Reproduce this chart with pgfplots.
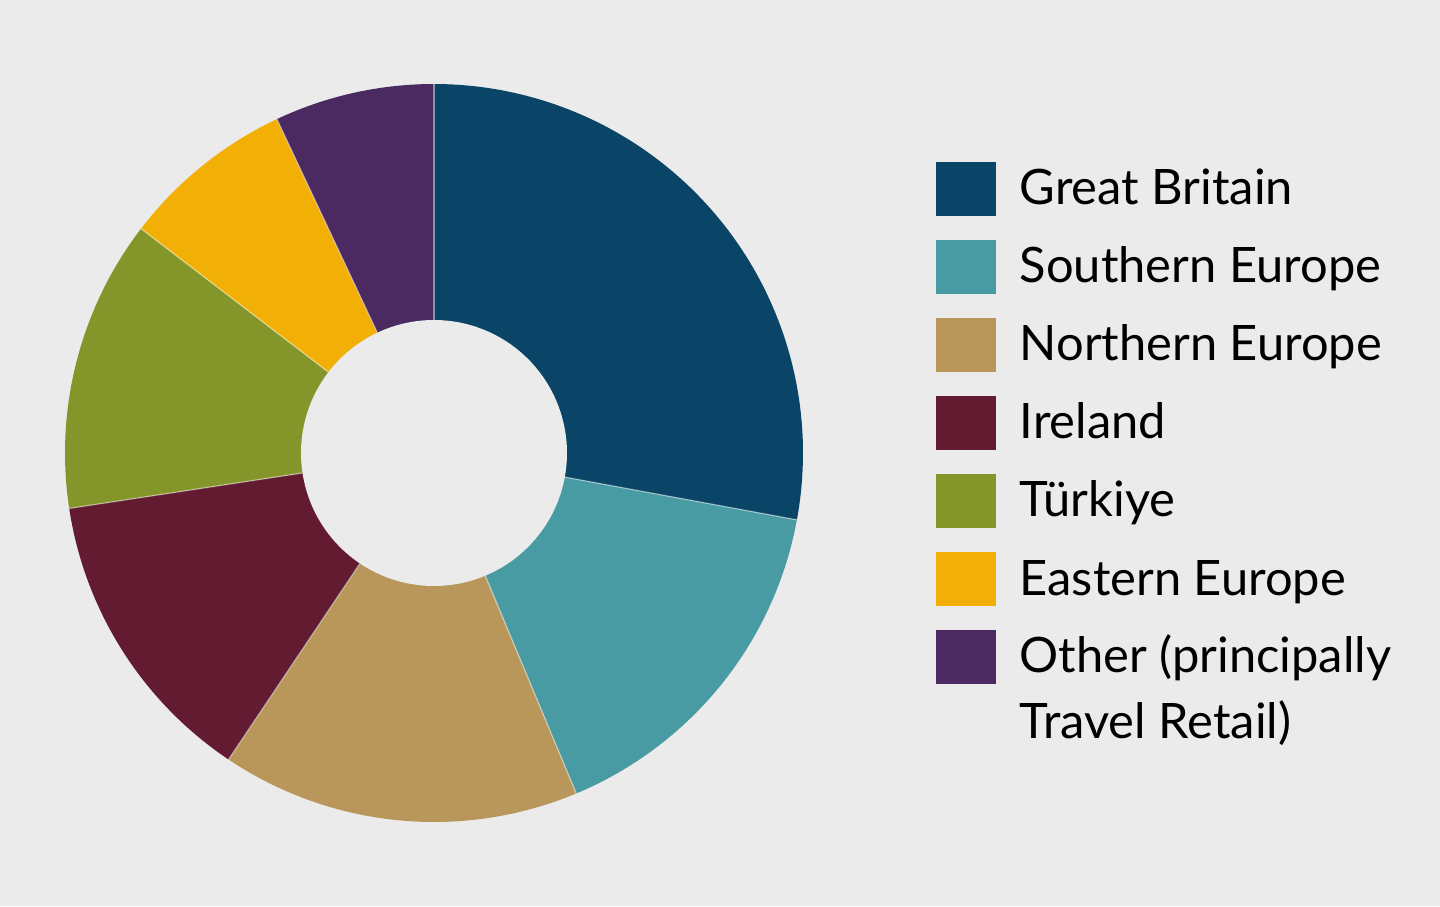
\documentclass[border=0pt]{standalone}
\usepackage{pgfplots}
\pgfplotsset{compat=1.18}
\usepackage{pgfplotstable}
\usepackage{fontspec}
\setmainfont{Lato}
\definecolor{bg}{HTML}{EBEBEB}
\definecolor{c0}{HTML}{0A4466}
\definecolor{c1}{HTML}{489BA3}
\definecolor{c2}{HTML}{B9975B}
\definecolor{c3}{HTML}{631B31}
\definecolor{c4}{HTML}{849629}
\definecolor{c5}{HTML}{F2B006}
\definecolor{c6}{HTML}{4A2A60}
% shares in percent, clockwise from 12 o'clock
\pgfplotstableread{
value
27.9
15.8
15.7
13.2
12.8
7.6
7.0
}\shares
\begin{document}
\begin{tikzpicture}[x=1cm,y=1cm]
\fill[bg] (0,0) rectangle (14.4,9.06);
\begin{axis}[at={(4.34cm,4.53cm)}, anchor=center, width=7.38cm, height=7.38cm,
  scale only axis, hide axis, xmin=-369, xmax=369, ymin=-369, ymax=369, clip=false]
\pgfplotstablegetrowsof{\shares}
\pgfmathtruncatemacro{\nrows}{\pgfplotsretval-1}
\gdef\cum{0}
\pgfplotsforeachungrouped \i in {0,...,\nrows}{%
  \pgfplotstablegetelem{\i}{value}\of{\shares}%
  \let\val\pgfplotsretval
  \pgfmathsetmacro{\start}{90-3.6*\cum}%
  \pgfmathsetmacro{\newcum}{\cum+\val}%
  \xdef\cum{\newcum}%
  \pgfmathsetmacro{\stop}{90-3.6*\cum}%
  \edef\doplot{\noexpand\addplot[fill=c\i, draw=none, domain=\stop:\start, samples=90, variable=\noexpand\t]
     ({369*cos(\noexpand\t)},{369*sin(\noexpand\t)}) -- (axis cs:0,0) -- cycle;}%
  \doplot
}
% thin separators
\gdef\cum{0}
\pgfplotsforeachungrouped \i in {0,...,\nrows}{%
  \pgfplotstablegetelem{\i}{value}\of{\shares}%
  \let\val\pgfplotsretval
  \pgfmathsetmacro{\ang}{90-3.6*\cum}%
  \pgfmathsetmacro{\xa}{133*cos(\ang)}\pgfmathsetmacro{\ya}{133*sin(\ang)}%
  \pgfmathsetmacro{\xb}{369*cos(\ang)}\pgfmathsetmacro{\yb}{369*sin(\ang)}%
  \edef\doplot{\noexpand\addplot[draw=white, draw opacity=0.45, line width=0.35pt] coordinates {(\xa,\ya) (\xb,\yb)};}%
  \doplot
  \pgfmathsetmacro{\newcum}{\cum+\val}%
  \xdef\cum{\newcum}%
}
% hole
\addplot[fill=bg, draw=none, domain=0:360, samples=160, variable=\t]
  ({133*cos(\t)},{133*sin(\t)}) -- cycle;
\end{axis}
% legend
\fontsize{13.9}{16}\selectfont
\foreach \k/\name in {0/Great Britain,1/Southern Europe,2/Northern Europe,3/Ireland,4/Türkiye,5/Eastern Europe,6/Other (principally}{
  \pgfmathsetmacro{\ytop}{(906-162-78*\k)/100}
  \pgfmathsetmacro{\ybase}{(906-205-78*\k)/100}
  \fill[c\k] (9.36,\ytop) rectangle (9.96,\ytop-0.54);
  \node[anchor=base west, inner sep=0pt] at (10.19,\ybase) {\fontsize{13.9}{16}\selectfont \name};
}
\node[anchor=base west, inner sep=0pt] at (10.19,{(906-738)/100}) {\fontsize{13.9}{16}\selectfont Travel Retail)};
\end{tikzpicture}
\end{document}
